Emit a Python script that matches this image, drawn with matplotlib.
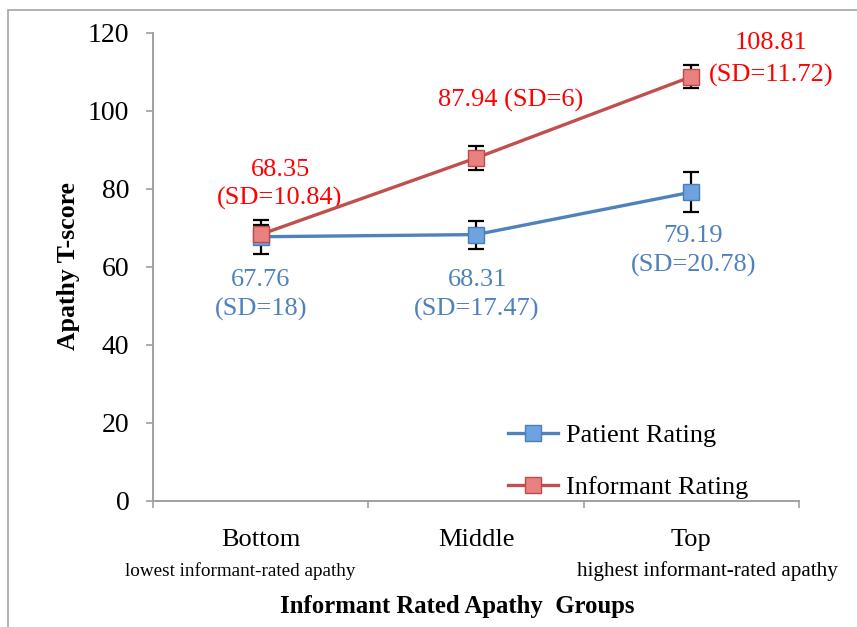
import matplotlib
matplotlib.use("Agg")
import matplotlib.pyplot as plt
from matplotlib.patches import Rectangle
import numpy as np

plt.rcParams['font.family'] = ['Liberation Serif', 'DejaVu Serif']

groups = ["Bottom", "Middle", "Top"]
group_notes = ["lowest informant-rated apathy", "", "highest informant-rated apathy"]

patient_mean = [67.76, 68.31, 79.19]
patient_err = [4.3, 3.6, 5.2]
patient_sd = ["18", "17.47", "20.78"]

informant_mean = [68.35, 87.94, 108.81]
informant_err = [2.5, 3.0, 2.9]
informant_sd = ["10.84", "6", "11.72"]

blue_line = "#4F81BD"
blue_face = "#6FA3E0"
red_line = "#C0504D"
red_face = "#E8817F"

fig = plt.figure(figsize=(8.57, 6.27), dpi=100)
ax = fig.add_axes([153/857, 1 - 501/627, (799 - 153)/857, (501 - 33)/627])

x = np.arange(len(groups)) + 0.5

ax.errorbar(x, patient_mean, yerr=patient_err, fmt="none", ecolor="black",
            elinewidth=1.6, capsize=6, capthick=1.6, zorder=2)
ax.errorbar(x, informant_mean, yerr=informant_err, fmt="none", ecolor="black",
            elinewidth=1.6, capsize=6, capthick=1.6, zorder=2)

ax.plot(x, patient_mean, color=blue_line, lw=2.4, marker="s", markersize=11.5,
        markerfacecolor=blue_face, markeredgecolor="#4A7EBB", markeredgewidth=1,
        label="Patient Rating", zorder=3)
ax.plot(x, informant_mean, color=red_line, lw=2.4, marker="s", markersize=11.5,
        markerfacecolor=red_face, markeredgecolor="#BE4B48", markeredgewidth=1,
        label="Informant Rating", zorder=4)

# value labels
fs = 19
ax.text(x[0] + 0.09, 85.0, f"{informant_mean[0]}", color="red", fontsize=fs, ha="center", va="center")
ax.text(x[0] + 0.09, 77.7, f"(SD={informant_sd[0]})", color="red", fontsize=fs, ha="center", va="center")
ax.text(x[1] + 0.16, 102.8, f"{informant_mean[1]} (SD={informant_sd[1]})", color="red", fontsize=fs, ha="center", va="center")
ax.text(x[2] + 0.37, 117.4, f"{informant_mean[2]}", color="red", fontsize=fs, ha="center", va="center")
ax.text(x[2] + 0.37, 109.2, f"(SD={informant_sd[2]})", color="red", fontsize=fs, ha="center", va="center")

for i in range(3):
    ax.text(x[i] + 0.005 * i, 56.6 if i < 2 else 68.0, f"{patient_mean[i]}", color=blue_line,
            fontsize=fs, ha="center", va="center")
    ax.text(x[i] + 0.005 * i, 49.0 if i < 2 else 60.3, f"(SD={patient_sd[i]})", color=blue_line,
            fontsize=fs, ha="center", va="center")

ax.set_xlim(0, 3)
ax.set_ylim(0, 120)
ax.set_yticks(range(0, 121, 20))
ax.set_xticks([0, 1, 2, 3])
ax.set_xticklabels([])
ax.tick_params(axis="y", labelsize=20, colors="#A0A0A0", labelcolor="black", length=5, width=1.2, pad=12)
ax.tick_params(axis="x", colors="#A0A0A0", length=5, width=1.2)
for s in ["top", "right"]:
    ax.spines[s].set_visible(False)
for s in ["left", "bottom"]:
    ax.spines[s].set_color("#A0A0A0")
    ax.spines[s].set_linewidth(1.4)

note_shift = [-0.095, 0, 0.074]
note_size = [13.8, 13.8, 15.2]
for i in range(3):
    ax.text(x[i], -9.9, groups[i], fontsize=19, ha="center", va="center", clip_on=False)
    if group_notes[i]:
        ax.text(x[i] + note_shift[i], -17.9, group_notes[i], fontsize=note_size[i], ha="center",
                va="center", clip_on=False)

fig.text(457/857, 1 - 606/627, "Informant Rated Apathy  Groups", fontsize=17.8, fontweight="bold",
         ha="center", va="center")
fig.text(68/857, 1 - 266/627, "Apathy T-score", fontsize=18.5, fontweight="bold",
         ha="center", va="center", rotation=90)

ax.legend(loc="upper left", bbox_to_anchor=(0.55, 0.166), frameon=False, fontsize=19,
          handlelength=1.9, handletextpad=0.3, labelspacing=1.1, borderpad=0, borderaxespad=0)

fig.patches.append(Rectangle((8/857, -0.1), 2, 1.1 - 10/627, transform=fig.transFigure,
                             fill=False, edgecolor="#A6A6A6", lw=1.2))

fig.savefig("out.png", dpi=100)
